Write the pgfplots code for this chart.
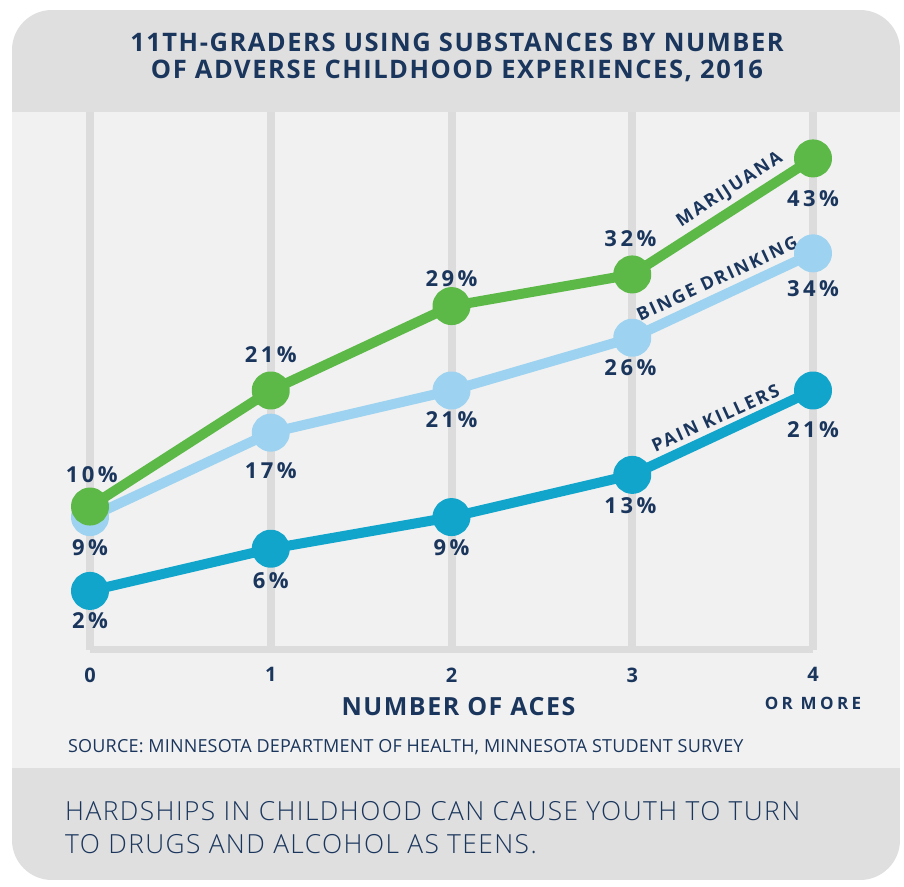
\documentclass[border=0pt]{standalone}
\usepackage{pgfplots}
\pgfplotsset{compat=1.18}
\usepackage{pgfplotstable}
\usepackage{fontspec}
\setmainfont{Open Sans}
\newfontfamily\lstitle{Open Sans}[LetterSpace=6]
\newfontfamily\lsdata{Open Sans}[LetterSpace=16]
\newfontfamily\lstick{Open Sans}[LetterSpace=10]
\newfontfamily\lsxlabel{Open Sans}[LetterSpace=6]
\newfontfamily\lsor{Open Sans}[LetterSpace=20]
\newfontfamily\lsseries{Open Sans}[LetterSpace=11]
\newfontfamily\lssource{Open Sans}[LetterSpace=1]
\newfontfamily\lightfont{Open Sans Light}[LetterSpace=5.5]
\definecolor{navy}{HTML}{1B365D}
\definecolor{mjgreen}{HTML}{5DB947}
\definecolor{bingeblue}{HTML}{9DD3F0}
\definecolor{painblue}{HTML}{12A5CC}
\definecolor{gridgray}{HTML}{DCDCDC}
\definecolor{bodybg}{HTML}{F1F1F1}
\definecolor{bandbg}{HTML}{DFDFDF}

\pgfplotstableread{
x y
0 10
1 21
2 29
3 32
4 43
}\marijuana
\pgfplotstableread{
x y
0 9
1 17
2 21
3 26
4 34
}\binge
\pgfplotstableread{
x y
0 2
1 6
2 9
3 13
4 21
}\pain

\begin{document}
\begin{tikzpicture}
\fill[white] (0,0) rectangle (904pt,886pt);
\begin{scope}
\clip[rounded corners=40pt] (12pt,6pt) rectangle (900pt,876pt);
\fill[bandbg] (12pt,6pt) rectangle (900pt,876pt);
\fill[bodybg] (12pt,118pt) rectangle (900pt,774pt);
\end{scope}
\node[font=\lstitle\bfseries\fontsize{25.5}{28}\selectfont, text=navy, anchor=base, inner sep=0pt] at (457pt,834pt) {11TH-GRADERS USING SUBSTANCES BY NUMBER};
\node[font=\lstitle\bfseries\fontsize{25.5}{28}\selectfont, text=navy, anchor=base, inner sep=0pt] at (457pt,807pt) {OF ADVERSE CHILDHOOD EXPERIENCES, 2016};
\node[font=\lssource\fontsize{18}{20}\selectfont, text=navy, anchor=base west, inner sep=0pt] at (68pt,134pt) {SOURCE: MINNESOTA DEPARTMENT OF HEALTH, MINNESOTA STUDENT SURVEY};
\node[font=\lightfont\fontsize{26.3}{30}\selectfont, text=navy, anchor=base west, inner sep=0pt] at (65pt,66pt) {HARDSHIPS IN CHILDHOOD CAN CAUSE YOUTH TO TURN};
\node[font=\lightfont\fontsize{26.3}{30}\selectfont, text=navy, anchor=base west, inner sep=0pt] at (65pt,33pt) {TO DRUGS AND ALCOHOL AS TEENS.};

\begin{axis}[
  at={(90pt,236pt)}, anchor=south west,
  scale only axis, width=723pt, height=538pt,
  xmin=0, xmax=4, ymin=-3.6, ymax=47.4,
  axis y line=none, axis x line=bottom,
  x axis line style={line width=7pt, color=gridgray, -},
  xtick={0,1,2,3,4},
  xticklabels={0,1,2,3,{4\\[4.5pt]{\lsor\fontsize{17}{20}\selectfont OR MORE}}},
  major tick length=0pt,
  xmajorgrids, grid style={line width=8pt, color=gridgray},
  x tick label style={font=\lstick\bfseries\fontsize{20}{23}\selectfont, text=navy, align=center, anchor=north, inner sep=0pt, yshift=-17.5pt},
  xlabel={NUMBER OF ACES},
  xlabel style={font=\lsxlabel\bfseries\fontsize{25}{28}\selectfont, text=navy, at={(axis description cs:0.5,0)}, anchor=north, inner sep=0pt, yshift=-47pt, xshift=7pt},
  clip=false,
]
\addplot[painblue, line width=10pt, line join=round, mark=*, mark size=14pt, mark options={fill=painblue, draw=none}] table {\pain};
\addplot[bingeblue, line width=10pt, line join=round, mark=*, mark size=14pt, mark options={fill=bingeblue, draw=none}] table {\binge};
\addplot[mjgreen, line width=10pt, line join=round, mark=*, mark size=14pt, mark options={fill=mjgreen, draw=none}] table {\marijuana};

\begin{scope}[every node/.style={font=\lsdata\bfseries\fontsize{22}{24}\selectfont, text=navy}]
\node at (axis cs:0.01,13.0) {10\%};
\node at (axis cs:1,24.4) {21\%};
\node at (axis cs:2,31.6) {29\%};
\node at (axis cs:2.99,35.4) {32\%};
\node at (axis cs:4.0,39.2) {43\%};
\node at (axis cs:0,6.1) {9\%};
\node at (axis cs:1,13.4) {17\%};
\node at (axis cs:2,18.2) {21\%};
\node at (axis cs:2.99,23.2) {26\%};
\node at (axis cs:4.0,30.7) {34\%};
\node at (axis cs:0,-0.8) {2\%};
\node at (axis cs:1,3.0) {6\%};
\node at (axis cs:2,6.1) {9\%};
\node at (axis cs:2.99,10.1) {13\%};
\node at (axis cs:4.0,17.25) {21\%};
\end{scope}
\begin{scope}[every node/.style={font=\lsseries\bfseries\fontsize{18}{20}\selectfont, text=navy}]
\node[rotate=33] at (axis cs:3.54,40.0) {MARIJUANA};
\node[rotate=25] at (axis cs:3.47,31.6) {BINGE DRINKING};
\node[rotate=24.5] at (axis cs:3.46,18.4) {PAIN KILLERS};
\end{scope}
\end{axis}
\end{tikzpicture}
\end{document}
